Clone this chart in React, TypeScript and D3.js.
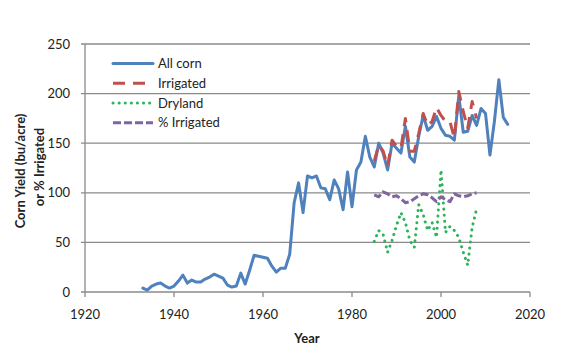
import React from "react";
import * as d3 from "d3";

const allCornYears = d3.range(1933, 2016);
const allCornValues = [
  4, 2, 6, 8, 9, 6, 4, 6, 11, 17, // 1933-1942
  9, 12, 10, 10, 13, 15, 18, 16, 14, 7, // 1943-1952
  5, 6, 19, 8, 22, 37, 36, 35, 34, 26, // 1953-1962
  20, 24, 24, 38, 90, 110, 80, 117, 115, 117, // 1963-1972
  105, 104, 93, 113, 104, 83, 121, 86, 123, 131, // 1973-1982
  157, 136, 126, 150, 140, 123, 150, 145, 140, 167, // 1983-1992
  136, 131, 157, 178, 163, 167, 177, 165, 158, 157, // 1993-2002
  153, 198, 161, 162, 178, 168, 185, 180, 138, 172, // 2003-2012
  214, 176, 169, // 2013-2015
];

const subYears = d3.range(1985, 2009);
const irrigatedValues = [
  132, 148, 142, 127, 153, 147, 145, 175, 142, 142, 160, 180,
  168, 172, 186, 178, 172, 172, 155, 202, 182, 165, 192, 175,
];
const drylandValues = [
  51, 62, 58, 40, 52, 67, 80, 70, 52, 45, 88, 78,
  62, 70, 55, 123, 60, 66, 62, 55, 40, 27, 65, 84,
];
const pctIrrigatedValues = [
  98, 96, 101, 99, 96, 97, 94, 90, 91, 94, 97, 99,
  98, 95, 91, 96, 93, 91, 99, 97, 96, 97, 99, 100,
];

const yTicks = [0, 50, 100, 150, 200, 250];
const xTicks = [1920, 1940, 1960, 1980, 2000, 2020];

const seriesNames = ["All corn", "Irrigated", "Dryland", "% Irrigated"];

const FONT = "Lato, 'Liberation Sans', sans-serif";

export default function App() {
  const W = 562, H = 356;
  const left = 85, right = 530, top = 44, bottom = 292;
  const x = d3.scaleLinear().domain([1920, 2020]).range([left, right]);
  const y = d3.scaleLinear().domain([0, 250]).range([bottom, top]);
  const line = d3
    .line<[number, number]>()
    .x((d) => x(d[0]))
    .y((d) => y(d[1]));

  const zip = (ys: number[], vs: number[]) =>
    ys.map((yr, i) => [yr, vs[i]] as [number, number]);

  const styles = [
    { color: "#4F81BD", dash: "", cap: "round", width: 3 },
    { color: "#C0504D", dash: "12 8", cap: "butt", width: 3 },
    { color: "#2FB35A", dash: "0.1 6", cap: "round", width: 3 },
    { color: "#8064A2", dash: "8 3", cap: "butt", width: 3 },
  ];
  const data = [
    zip(allCornYears, allCornValues),
    zip(subYears, irrigatedValues),
    zip(subYears, drylandValues),
    zip(subYears, pctIrrigatedValues),
  ];

  const legendY = [63.5, 83.3, 103, 122.8];

  return (
    <svg width={W} height={H} style={{ display: "block", position: "absolute", left: 0, top: 0 }}>
      <rect width={W} height={H} fill="#fff" />
      {yTicks.map((t) => (
        <g key={t}>
          <line x1={left - 4} x2={right} y1={y(t)} y2={y(t)} stroke="#8a8a8a" strokeWidth={1.3} />
          <text x={70} y={y(t)} dy="0.35em" textAnchor="end" fontFamily={FONT} fontSize={13} fill="#222">
            {t}
          </text>
        </g>
      ))}
      <line x1={left} x2={left} y1={top} y2={bottom} stroke="#8a8a8a" strokeWidth={1.3} />
      {xTicks.map((t) => (
        <g key={t}>
          <line x1={x(t)} x2={x(t)} y1={bottom} y2={bottom + 5} stroke="#8a8a8a" strokeWidth={1.3} />
          <text x={x(t)} y={314} dy="0.35em" textAnchor="middle" fontFamily={FONT} fontSize={13} fill="#222">
            {t}
          </text>
        </g>
      ))}
      {data.map((d, i) => (
        <path
          key={i}
          d={line(d) || ""}
          fill="none"
          stroke={styles[i].color}
          strokeWidth={styles[i].width}
          strokeDasharray={styles[i].dash}
          strokeLinecap={styles[i].cap as any}
          strokeLinejoin="round"
        />
      ))}
      {seriesNames.map((n, i) => (
        <g key={n}>
          <line
            x1={113}
            x2={153}
            y1={legendY[i]}
            y2={legendY[i]}
            stroke={styles[i].color}
            strokeWidth={styles[i].width}
            strokeDasharray={styles[i].dash}
            strokeLinecap={styles[i].cap as any}
          />
          <text x={158} y={legendY[i]} dy="0.35em" fontFamily={FONT} fontSize={13} fill="#222">
            {n}
          </text>
        </g>
      ))}
      <text
        transform="translate(20,171) rotate(-90)"
        textAnchor="middle"
        dy="0.35em"
        fontFamily={FONT}
        fontSize={13}
        fontWeight="bold"
        fill="#222"
      >
        Corn Yield (bu/acre)
      </text>
      <text
        transform="translate(39,167) rotate(-90)"
        textAnchor="middle"
        dy="0.35em"
        fontFamily={FONT}
        fontSize={13}
        fontWeight="bold"
        fill="#222"
      >
        or % Irrigated
      </text>
      <text x={307} y={338} dy="0.35em" textAnchor="middle" fontFamily={FONT} fontSize={13} fontWeight="bold" fill="#222">
        Year
      </text>
    </svg>
  );
}
